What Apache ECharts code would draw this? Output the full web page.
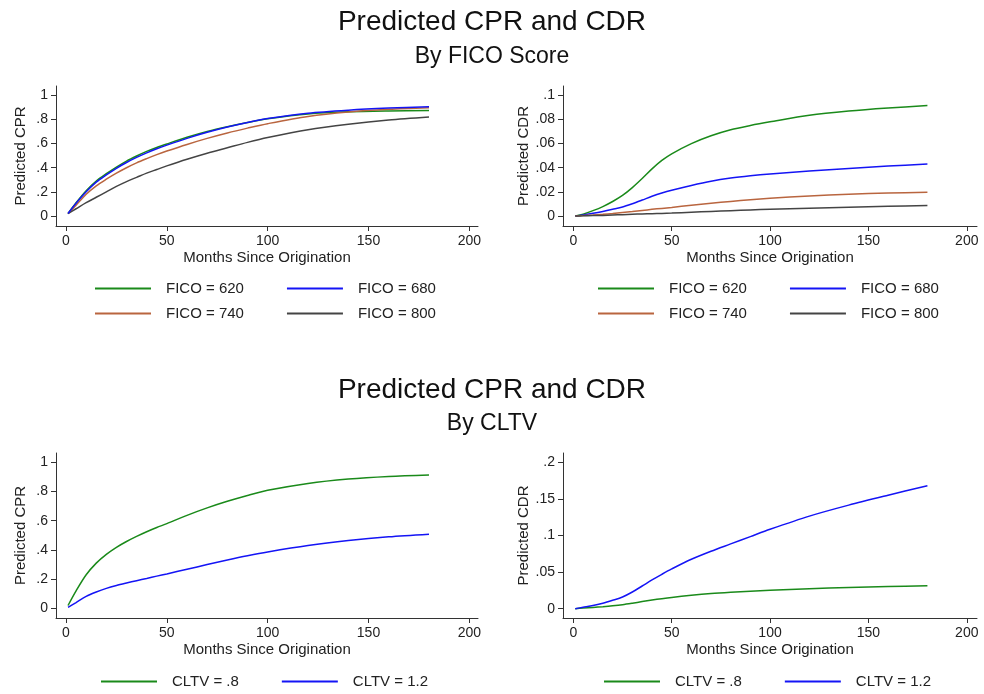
<!DOCTYPE html>
<html>
<head>
<meta charset="utf-8">
<script src="https://cdn.jsdelivr.net/npm/echarts@6/dist/echarts.min.js"></script>
<style>
  html, body { margin: 0; padding: 0; background: #fff; }
  #chart { width: 984px; height: 694px; }
</style>
</head>
<body>
<div id="chart"></div>
<script>
// months since origination (shared by every curve)
const months = [1, 5, 10, 15, 20, 25, 30, 35, 40, 45, 50, 60, 70, 80, 90, 100, 120, 140, 160, 180]

// predicted CPR by FICO
const cprFico620 = [0.02, 0.11, 0.21, 0.29, 0.35, 0.405, 0.455, 0.497, 0.535, 0.568, 0.597, 0.652, 0.70, 0.74, 0.775, 0.805, 0.845, 0.863, 0.870, 0.873]
const cprFico680 = [0.02, 0.105, 0.20, 0.28, 0.34, 0.395, 0.443, 0.485, 0.523, 0.557, 0.587, 0.643, 0.693, 0.737, 0.775, 0.808, 0.852, 0.877, 0.894, 0.906]
const cprFico740 = [0.02, 0.09, 0.18, 0.25, 0.305, 0.355, 0.40, 0.44, 0.475, 0.508, 0.538, 0.593, 0.643, 0.688, 0.728, 0.765, 0.825, 0.862, 0.884, 0.897]
const cprFico800 = [0.02, 0.06, 0.11, 0.155, 0.20, 0.245, 0.285, 0.32, 0.355, 0.385, 0.415, 0.47, 0.52, 0.565, 0.61, 0.65, 0.715, 0.76, 0.795, 0.82]

// predicted CDR by FICO
const cdrFico620 = [0, 0.0015, 0.0044, 0.0078, 0.012, 0.017, 0.0235, 0.031, 0.039, 0.046, 0.0515, 0.060, 0.0665, 0.0715, 0.075, 0.078, 0.0835, 0.087, 0.0895, 0.0915]
const cdrFico680 = [0, 0.0008, 0.0022, 0.0038, 0.0056, 0.0075, 0.0102, 0.0132, 0.0163, 0.019, 0.0213, 0.0253, 0.0288, 0.0314, 0.0333, 0.0348, 0.0372, 0.0394, 0.0414, 0.043]
const cdrFico740 = [0, 0.0003, 0.0008, 0.0014, 0.0021, 0.0029, 0.0037, 0.0046, 0.0055, 0.0063, 0.0071, 0.0089, 0.0106, 0.0121, 0.0135, 0.0147, 0.0166, 0.018, 0.019, 0.0196]
const cdrFico800 = [0, 0.0001, 0.0003, 0.0005, 0.0008, 0.0011, 0.0014, 0.0017, 0.0019, 0.0021, 0.0024, 0.0031, 0.0038, 0.0044, 0.005, 0.0056, 0.0065, 0.0073, 0.008, 0.0086]

// predicted CPR / CDR by CLTV
const cprCltv08 = [0.02, 0.12, 0.23, 0.31, 0.37, 0.418, 0.458, 0.493, 0.525, 0.554, 0.58, 0.637, 0.688, 0.733, 0.773, 0.808, 0.855, 0.885, 0.903, 0.913]
const cprCltv12 = [0.007, 0.04, 0.082, 0.112, 0.137, 0.157, 0.174, 0.19, 0.205, 0.221, 0.236, 0.268, 0.30, 0.331, 0.36, 0.386, 0.43, 0.464, 0.49, 0.508]
const cdrCltv08 = [0, 0.0008, 0.0018, 0.0028, 0.004, 0.0055, 0.0075, 0.0097, 0.0118, 0.0137, 0.0154, 0.0183, 0.0207, 0.0225, 0.024, 0.0253, 0.0274, 0.029, 0.0303, 0.0314]
const cdrCltv12 = [0, 0.002, 0.0045, 0.0075, 0.0115, 0.016, 0.0228, 0.031, 0.0393, 0.047, 0.0543, 0.0675, 0.0785, 0.0885, 0.0985, 0.1085, 0.1265, 0.1415, 0.155, 0.168]

// tick labels
const xTicks = [0, 50, 100, 150, 200]
const cprTicks = [0, 0.2, 0.4, 0.6, 0.8, 1]
const cdrFicoTicks = [0, 0.02, 0.04, 0.06, 0.08, 0.1]
const cdrCltvTicks = [0, 0.05, 0.1, 0.15, 0.2]

const ficoNames = ['FICO = 620', 'FICO = 680', 'FICO = 740', 'FICO = 800']
const cltvNames = ['CLTV = .8', 'CLTV = 1.2']

const GREEN = '#1a8a1a'
const BLUE = '#1414f5'
const ORANGE = '#b9653f'
const DARK = '#444444'
const FONT = 'Liberation Sans, Arial, Helvetica, sans-serif'

const mChart = echarts.init(document.getElementById('chart'))

// Stata-style number: .2 instead of 0.2
const stataNum = v => (v === 0 ? '0' : String(v).replace(/^0\./, '.'))

const makeX = (idx, min, max) => ({
  type: 'value',
  gridIndex: idx,
  min: min,
  max: max,
  name: 'Months Since Origination',
  nameLocation: 'middle',
  nameGap: 24,
  nameTextStyle: { fontFamily: FONT, fontSize: 15, color: '#222' },
  axisLine: { onZero: false, lineStyle: { color: '#333', width: 1 } },
  axisTick: { length: 5, customValues: xTicks, lineStyle: { color: '#333' } },
  axisLabel: { customValues: xTicks, margin: 8, fontFamily: FONT, fontSize: 14, color: '#222' },
  splitLine: { show: false }
})

const makeY = (idx, min, max, ticks, name) => ({
  type: 'value',
  gridIndex: idx,
  min: min,
  max: max,
  name: name,
  nameLocation: 'middle',
  nameGap: 28,
  nameTextStyle: { fontFamily: FONT, fontSize: 15, color: '#222' },
  axisLine: { show: true, onZero: false, lineStyle: { color: '#333', width: 1 } },
  axisTick: { show: true, length: 5, customValues: ticks, lineStyle: { color: '#333' } },
  axisLabel: { customValues: ticks, margin: 8, fontFamily: FONT, fontSize: 14, color: '#222', formatter: stataNum },
  splitLine: { show: false }
})

const makeLine = (name, values, color, idx) => ({
  name: name,
  type: 'line',
  xAxisIndex: idx,
  yAxisIndex: idx,
  data: months.map((m, i) => [m, values[i]]),
  smooth: 0.3,
  symbol: 'none',
  color: color,
  lineStyle: { width: 1.5, color: color },
  silent: true,
  animation: false
})

const makeLegend = (names, left, top) => ({
  data: names,
  left: left,
  top: top,
  padding: 0,
  icon: 'rect',
  itemWidth: 56,
  itemHeight: 2,
  itemGap: 43,
  selectedMode: false,
  textStyle: { fontFamily: FONT, fontSize: 15, color: '#222', padding: [0, 0, 0, 10] }
})

const titleStyle = { fontFamily: FONT, fontSize: 28, fontWeight: 'normal', color: '#111' }
const subStyle = { fontFamily: FONT, fontSize: 23, fontWeight: 'normal', color: '#111' }

const options = {
  backgroundColor: '#fff',
  animation: false,
  title: [
    { text: 'Predicted CPR and CDR', left: 'center', top: 8, padding: 0, textStyle: titleStyle },
    { text: 'By FICO Score', left: 'center', top: 45, padding: 0, textStyle: subStyle },
    { text: 'Predicted CPR and CDR', left: 'center', top: 376, padding: 0, textStyle: titleStyle },
    { text: 'By CLTV', left: 'center', top: 412, padding: 0, textStyle: subStyle }
  ],
  grid: [
    { left: 56, top: 86, width: 422, height: 140 },
    { left: 563, top: 86, width: 414, height: 140 },
    { left: 56, top: 453, width: 422, height: 165 },
    { left: 563, top: 453, width: 414, height: 165 }
  ],
  xAxis: [
    makeX(0, -4.96, 204.3),
    makeX(1, -5.24, 205.2),
    makeX(2, -4.96, 204.3),
    makeX(3, -5.24, 205.2)
  ],
  yAxis: [
    makeY(0, -0.083, 1.077, cprTicks, 'Predicted CPR'),
    makeY(1, -0.0083, 0.1077, cdrFicoTicks, 'Predicted CDR'),
    makeY(2, -0.0656, 1.0635, cprTicks, 'Predicted CPR'),
    makeY(3, -0.0127, 0.2127, cdrCltvTicks, 'Predicted CDR')
  ],
  legend: [
    makeLegend(ficoNames.slice(0, 2), 95, 281),
    makeLegend(ficoNames.slice(2, 4), 95, 306),
    makeLegend(ficoNames.slice(0, 2), 598, 281),
    makeLegend(ficoNames.slice(2, 4), 598, 306),
    makeLegend(cltvNames, 101, 674),
    makeLegend(cltvNames, 604, 674)
  ],
  series: [
    makeLine(ficoNames[0], cprFico620, GREEN, 0),
    makeLine(ficoNames[2], cprFico740, ORANGE, 0),
    makeLine(ficoNames[3], cprFico800, DARK, 0),
    makeLine(ficoNames[1], cprFico680, BLUE, 0),
    makeLine(ficoNames[0], cdrFico620, GREEN, 1),
    makeLine(ficoNames[1], cdrFico680, BLUE, 1),
    makeLine(ficoNames[2], cdrFico740, ORANGE, 1),
    makeLine(ficoNames[3], cdrFico800, DARK, 1),
    makeLine(cltvNames[0], cprCltv08, GREEN, 2),
    makeLine(cltvNames[1], cprCltv12, BLUE, 2),
    makeLine(cltvNames[0], cdrCltv08, GREEN, 3),
    makeLine(cltvNames[1], cdrCltv12, BLUE, 3)
  ]
}

mChart.setOption(options)
</script>
</body>
</html>
